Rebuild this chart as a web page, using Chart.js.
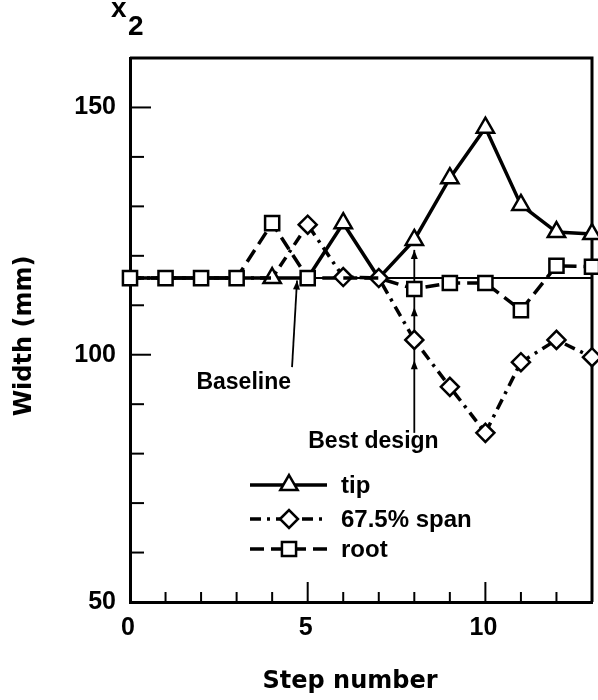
<!DOCTYPE html>
<html>
<head>
<meta charset="utf-8">
<script src="https://cdn.jsdelivr.net/npm/chart.js@4/dist/chart.umd.min.js"></script>
<style>
  body { margin: 0; background: #fff; }
</style>
</head>
<body>
<canvas id="myChart" width="598" height="700"></canvas>
<script>
      // values (width in mm per optimisation step)
      let steps = [0, 1, 2, 3, 4, 5, 6, 7, 8, 9, 10, 11, 12, 13];
      let tipWidth = [115.5, 115.5, 115.5, 115.5, 115.5, 115.5, 126.6, 115.5, 123.2, 135.7, 145.9, 130.3, 124.8, 124.4];
      let spanWidth = [115.5, 115.5, 115.5, 115.5, 115.5, 126.3, 115.7, 115.5, 103.0, 93.5, 84.2, 98.5, 103.0, 99.5];
      let rootWidth = [115.5, 115.5, 115.5, 115.5, 126.6, 115.5, 115.5, 115.5, 113.3, 114.5, 114.5, 109.0, 118.0, 117.8];
      let baselineWidth = 115.5;
      let bestDesignStep = 8;
      let seriesNames = ["tip", "67.5% span", "root"];

      const FONT = '"Liberation Sans", Arial, Helvetica, sans-serif';
      const TITLE_FONT = '"DejaVu Sans", "Liberation Sans", sans-serif';

      function toPoints(values) {
        return steps.map(function (s, i) {
          return { x: s, y: values[i] };
        });
      }

      // hide markers where another series sits on the same spot
      let rootRadius = [10, 10, 10, 10, 10, 10, 0, 0, 10, 10, 10, 10, 10, 10];
      let spanRadius = [0, 0, 0, 0, 0, 9, 9, 9, 9, 9, 9, 9, 9, 9];
      let tipRadius = [0, 0, 0, 0, 10, 0, 10, 0, 10, 10, 10, 10, 10, 10];

      let styles = {
        tip: { dash: [], point: "triangle", radius: 10, width: 3.5 },
        span: { dash: [11, 6, 3, 6], point: "rectRot", radius: 9, width: 3.5 },
        root: { dash: [14, 7], point: "rect", radius: 10, width: 3.5 },
      };

      function line(ctx, x1, y1, x2, y2) {
        ctx.beginPath();
        ctx.moveTo(x1, y1);
        ctx.lineTo(x2, y2);
        ctx.stroke();
      }

      function arrowHead(ctx, x, y, angle) {
        ctx.save();
        ctx.translate(x, y);
        ctx.rotate(angle);
        ctx.beginPath();
        ctx.moveTo(0, 0);
        ctx.lineTo(-9, -3.5);
        ctx.lineTo(-9, 3.5);
        ctx.closePath();
        ctx.fill();
        ctx.restore();
      }

      function marker(ctx, style, x, y) {
        ctx.save();
        ctx.fillStyle = "#fff";
        ctx.strokeStyle = "#000";
        ctx.lineWidth = 2.5;
        ctx.setLineDash([]);
        Chart.helpers.drawPoint(ctx, { pointStyle: style.point, radius: style.radius, rotation: 0, borderWidth: 2.5 }, x, y);
        ctx.restore();
      }

      const decor = {
        id: "decor",
        beforeDatasetsDraw(chart) {
          const { ctx, chartArea: a, scales } = chart;
          const x = scales.x, y = scales.y;
          ctx.save();
          ctx.strokeStyle = "#000";
          ctx.fillStyle = "#000";
          // top and right side of the frame
          ctx.lineWidth = 3;
          ctx.beginPath();
          ctx.moveTo(a.left, a.top);
          ctx.lineTo(a.right, a.top);
          ctx.lineTo(a.right, a.bottom);
          ctx.stroke();
          // inward tick marks
          ctx.lineWidth = 2;
          for (let v = 60; v < 160; v += 10) {
            let py = y.getPixelForValue(v);
            line(ctx, a.left, py, a.left + (v % 50 === 0 ? 21 : 14), py);
          }
          for (let s = 1; s <= 12; s++) {
            let px = x.getPixelForValue(s);
            line(ctx, px, a.bottom, px, a.bottom - (s % 5 === 0 ? 20 : 10));
          }
          // "Baseline" arrow
          ctx.lineWidth = 1.8;
          let bx1 = x.getPixelForValue(4.56), by1 = y.getPixelForValue(97.5);
          let bx2 = x.getPixelForValue(4.7), by2 = y.getPixelForValue(115);
          line(ctx, bx1, by1, bx2, by2);
          arrowHead(ctx, bx2, by2, Math.atan2(by2 - by1, bx2 - bx1));
          // "Best design" arrow with heads under each marker
          let dx = x.getPixelForValue(bestDesignStep);
          line(ctx, dx, y.getPixelForValue(84.2), dx, y.getPixelForValue(121.2));
          [121.2, 109.6, 98.9].forEach(function (v) {
            arrowHead(ctx, dx, y.getPixelForValue(v), -Math.PI / 2);
          });
          ctx.restore();
        },
        afterDraw(chart) {
          const { ctx, scales } = chart;
          const x = scales.x, y = scales.y;
          ctx.save();
          ctx.fillStyle = "#000";
          ctx.font = "bold 23px " + FONT;
          ctx.textAlign = "center";
          ctx.textBaseline = "alphabetic";
          ctx.fillText("Baseline", x.getPixelForValue(3.2), y.getPixelForValue(93.1));
          ctx.fillText("Best design", x.getPixelForValue(6.85), y.getPixelForValue(81.1));

          // axis titles
          ctx.font = "bold 24px " + TITLE_FONT;
          ctx.fillText("Step number", 350, 688);
          ctx.save();
          ctx.translate(31, 336);
          ctx.rotate(-Math.PI / 2);
          ctx.fillText("Width (mm)", 0, 0);
          ctx.restore();

          // x2 label above the axis
          ctx.textAlign = "left";
          ctx.font = "bold 28px " + FONT;
          ctx.fillText("x", 111, 17);
          ctx.fillText("2", 128, 35);

          // legend
          let rows = [styles.tip, styles.span, styles.root];
          let rowY = [485, 519, 549];
          ctx.font = "bold 24px " + FONT;
          rows.forEach(function (st, i) {
            ctx.strokeStyle = "#000";
            ctx.lineWidth = st.width;
            ctx.setLineDash(st.dash);
            line(ctx, 250, rowY[i], 327, rowY[i]);
            marker(ctx, st, 289, rowY[i]);
            ctx.fillStyle = "#000";
            ctx.fillText(seriesNames[i], 341, rowY[i] + 8);
          });
          ctx.restore();
        },
      };

      function makeSet(label, values, st, radius) {
        return {
          label: label,
          data: toPoints(values),
          borderColor: "#000",
          borderWidth: st.width,
          borderDash: st.dash,
          pointStyle: st.point,
          pointRadius: radius,
          pointBackgroundColor: "#fff",
          pointBorderColor: "#000",
          pointBorderWidth: 2.5,
          tension: 0,
          clip: false,
        };
      }

      let tickFont = { family: FONT, size: 25, weight: "bold" };

      let ctx = document.getElementById("myChart").getContext("2d");
      let chart = new Chart(ctx, {
        type: "line",
        data: {
          datasets: [
            makeSet("root", rootWidth, styles.root, rootRadius),
            makeSet("67.5% span", spanWidth, styles.span, spanRadius),
            makeSet("tip", tipWidth, styles.tip, tipRadius),
            {
              label: "baseline",
              data: [
                { x: steps[0], y: baselineWidth },
                { x: steps[steps.length - 1], y: baselineWidth },
              ],
              borderColor: "#000",
              borderWidth: 2,
              pointRadius: 0,
              clip: false,
            },
          ],
        },
        options: {
          responsive: false,
          animation: false,
          layout: { autoPadding: false, padding: { top: 58, right: 6, left: 0, bottom: 0 } },
          plugins: { legend: { display: false }, tooltip: { enabled: false } },
          scales: {
            x: {
              type: "linear",
              min: 0,
              max: 13,
              grid: { display: false, drawTicks: false },
              border: { color: "#000", width: 3 },
              ticks: { stepSize: 5, includeBounds: false, padding: 11, labelOffset: -2, color: "#000", font: tickFont },
              afterFit: function (s) { s.height = 98; },
            },
            y: {
              min: 50,
              max: 160,
              grid: { display: false, drawTicks: false },
              border: { color: "#000", width: 3 },
              ticks: { stepSize: 50, includeBounds: false, padding: 14, color: "#000", font: tickFont },
              afterFit: function (s) { s.width = 130; },
            },
          },
        },
        plugins: [decor],
      });
</script>
</body>
</html>
